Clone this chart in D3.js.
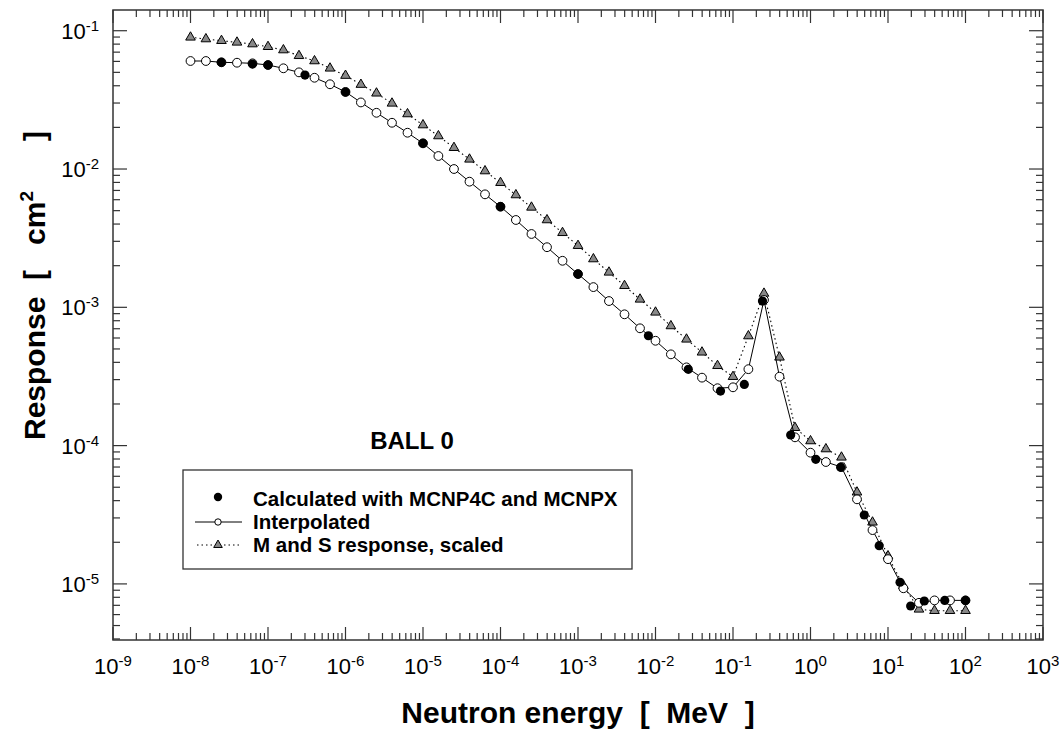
<!DOCTYPE html>
<html lang="en">

<head>
    <meta charset="UTF-8">
    <title>BALL 0 response</title>
    <style>
    body { margin: 0; background: #fff; }
    svg text { font-family: "Liberation Sans", Arial, Helvetica, sans-serif; fill: #000; }
    </style>
</head>

<body>
    <div class="chart"></div>
    <script src="https://d3js.org/d3.v7.min.js"></script>
    <script type="text/javascript">
    // energies on the interpolation grid [MeV]
    var gridEnergy = [
        1e-8, 1.58e-8, 2.51e-8, 3.98e-8, 6.31e-8,
        1e-7, 1.58e-7, 2.51e-7, 3.98e-7, 6.31e-7,
        1e-6, 1.58e-6, 2.51e-6, 3.98e-6, 6.31e-6,
        1e-5, 1.58e-5, 2.51e-5, 3.98e-5, 6.31e-5,
        1e-4, 1.58e-4, 2.51e-4, 3.98e-4, 6.31e-4,
        1e-3, 1.58e-3, 2.51e-3, 3.98e-3, 6.31e-3,
        1e-2, 1.58e-2, 2.51e-2, 3.98e-2, 6.31e-2,
        1e-1, 1.58e-1, 2.51e-1, 3.98e-1, 6.31e-1,
        1, 1.58, 2.51, 3.98, 6.31,
        10, 15.8, 25.1, 39.8, 63.1,
        100
    ];
    var interpResponse = [
        0.0604, 0.0604, 0.0591, 0.0587, 0.0581,
        0.0565, 0.0535, 0.0500, 0.0457, 0.0410,
        0.0361, 0.0303, 0.0255, 0.0216, 0.0183,
        0.01534, 0.01242, 0.0100, 0.0081, 0.00656,
        0.00534, 0.00428, 0.00339, 0.00272, 0.00217,
        0.00174, 0.00140, 0.00111, 0.00089, 0.000705,
        0.000573, 0.000457, 0.000368, 0.000310, 0.000260,
        0.000264, 0.000357, 0.00113, 0.000315, 0.0001148,
        0.0000889, 0.0000761, 0.0000700, 0.0000409, 0.0000245,
        0.0000151, 0.0000093, 0.0000073, 0.0000076, 0.0000076,
        0.0000076
    ];
    var msResponse = [
        0.0896, 0.0871, 0.0847, 0.0824, 0.0801,
        0.0766, 0.0725, 0.0659, 0.0604, 0.0535,
        0.0474, 0.0408, 0.0353, 0.02985, 0.0250,
        0.0208, 0.01733, 0.01426, 0.01175, 0.00967,
        0.00796, 0.00649, 0.00528, 0.00428, 0.00346,
        0.00279, 0.002235, 0.00179, 0.001432, 0.001142,
        0.00092, 0.000733, 0.000587, 0.000473, 0.000378,
        0.000315, 0.00062, 0.00126, 0.000435, 0.0001347,
        0.000108, 0.0000945, 0.0000823, 0.000046, 0.0000279,
        0.0000159, 0.0000097, 0.00000655, 0.0000064, 0.0000064,
        0.0000064
    ];
    // MCNP4C / MCNPX calculated points
    var calcEnergy = [2.5e-8, 6.3e-8, 1e-7, 3e-7, 1e-6, 1e-5, 1e-4, 1e-3, 8.1e-3, 2.65e-2,
        6.9e-2, 0.14, 0.24, 0.555, 1.17, 2.45, 4.94, 7.7, 14.3, 19.6, 29.4, 54, 100];
    var calcResponse = [0.0591, 0.0574, 0.0565, 0.0478, 0.0360, 0.01534, 0.00534, 0.00174, 0.000623, 0.000356,
        0.000248, 0.000277, 0.00111, 0.0001193, 0.0000796, 0.0000697, 0.0000315, 0.0000189, 0.00001028,
        0.00000692, 0.00000752, 0.0000076, 0.0000076];

    var xDecades = [-9, -8, -7, -6, -5, -4, -3, -2, -1, 0, 1, 2, 3];
    var yDecades = [-5, -4, -3, -2, -1];
    var legendLabels = ["Calculated with MCNP4C and MCNPX", "Interpolated", "M and S response, scaled"];

    var width = 1062, height = 730;
    var plotLeft = 113, plotTop = 10, plotW = 930, plotH = 630;

    var svg = d3.select(".chart").append("svg")
        .attr("width", width)
        .attr("height", height);

    var x = d3.scaleLog().domain([1e-9, 1e3]).range([plotLeft, plotLeft + plotW]);
    var y = d3.scaleLog().domain([3.93e-6, 0.1412]).range([plotTop + plotH, plotTop]);

    var interp = gridEnergy.map(function(e, i) { return { e: e, r: interpResponse[i] }; });
    var ms = gridEnergy.map(function(e, i) { return { e: e, r: msResponse[i] }; });
    var calc = calcEnergy.map(function(e, i) { return { e: e, r: calcResponse[i] }; });

    // ticks (inward, all four sides)
    var xMinor = [], yMinor = [];
    xDecades.slice(0, -1).forEach(function(d) {
        for (var k = 2; k <= 9; k++) xMinor.push(k * Math.pow(10, d));
    });
    [-6, -5, -4, -3, -2, -1].forEach(function(d) {
        for (var k = 2; k <= 9; k++) {
            var v = k * Math.pow(10, d);
            if (v >= y.domain()[0] && v <= y.domain()[1]) yMinor.push(v);
        }
    });

    var tickG = svg.append("g").attr("stroke", "#333").attr("stroke-width", 1.2);
    function xTick(v, len) {
        tickG.append("line").attr("x1", x(v)).attr("x2", x(v)).attr("y1", plotTop + plotH).attr("y2", plotTop + plotH - len);
        tickG.append("line").attr("x1", x(v)).attr("x2", x(v)).attr("y1", plotTop).attr("y2", plotTop + len);
    }
    function yTick(v, len) {
        tickG.append("line").attr("y1", y(v)).attr("y2", y(v)).attr("x1", plotLeft).attr("x2", plotLeft + len);
        tickG.append("line").attr("y1", y(v)).attr("y2", y(v)).attr("x1", plotLeft + plotW).attr("x2", plotLeft + plotW - len);
    }
    xDecades.forEach(function(d) { xTick(Math.pow(10, d), 13); });
    xMinor.forEach(function(v) { xTick(v, 7); });
    yDecades.forEach(function(d) { yTick(Math.pow(10, d), 14); });
    yMinor.forEach(function(v) { yTick(v, 7); });

    svg.append("rect")
        .attr("x", plotLeft).attr("y", plotTop)
        .attr("width", plotW).attr("height", plotH)
        .attr("fill", "none").attr("stroke", "#333").attr("stroke-width", 1.5);

    // tick labels
    xDecades.forEach(function(d) {
        var t = svg.append("text")
            .attr("x", x(Math.pow(10, d)))
            .attr("y", 674)
            .attr("text-anchor", "middle")
            .style("font-size", "22px");
        t.append("tspan").text("10");
        t.append("tspan").attr("dy", -8).style("font-size", "15px").text(d);
    });
    yDecades.forEach(function(d) {
        var t = svg.append("text")
            .attr("x", 99)
            .attr("y", y(Math.pow(10, d)) + 8)
            .attr("text-anchor", "end")
            .style("font-size", "22px");
        t.append("tspan").text("10");
        t.append("tspan").attr("dy", -8).style("font-size", "15px").text(d);
    });

    // axis titles
    svg.append("text")
        .attr("x", plotLeft + plotW / 2).attr("y", 723)
        .attr("text-anchor", "middle")
        .attr("xml:space", "preserve")
        .style("font-size", "30px").style("font-weight", "bold")
        .text("Neutron energy  [  MeV  ]");

    var yt = svg.append("text")
        .attr("transform", "translate(45,440) rotate(-90)")
        .attr("text-anchor", "start")
        .attr("xml:space", "preserve")
        .style("font-size", "30px").style("font-weight", "bold");
    yt.append("tspan").text("Response  [   cm");
    yt.append("tspan").attr("dy", -12).style("font-size", "19px").text("2");
    yt.append("tspan").attr("dy", 12).text("      ]");

    svg.append("text")
        .attr("x", 412).attr("y", 449)
        .attr("text-anchor", "middle")
        .style("font-size", "24px").style("font-weight", "bold")
        .text("BALL 0");

    // series
    var line = d3.line()
        .x(function(d) { return x(d.e); })
        .y(function(d) { return y(d.r); });

    var tri = d3.symbol().type(d3.symbolTriangle).size(40);

    svg.append("path").datum(ms)
        .attr("d", line)
        .attr("fill", "none").attr("stroke", "#000").attr("stroke-width", 1.1)
        .attr("stroke-dasharray", "1.5,3");

    svg.append("g").selectAll("path")
        .data(ms)
        .enter().append("path")
        .attr("d", tri)
        .attr("transform", function(d) { return "translate(" + x(d.e) + "," + y(d.r) + ")"; })
        .attr("fill", "#888").attr("stroke", "#000").attr("stroke-width", 1);

    svg.append("path").datum(interp)
        .attr("d", line)
        .attr("fill", "none").attr("stroke", "#000").attr("stroke-width", 1);

    svg.append("g").selectAll("circle")
        .data(interp)
        .enter().append("circle")
        .attr("cx", function(d) { return x(d.e); })
        .attr("cy", function(d) { return y(d.r); })
        .attr("r", 4.4)
        .attr("fill", "#fff").attr("stroke", "#000").attr("stroke-width", 1);

    svg.append("g").selectAll("circle")
        .data(calc)
        .enter().append("circle")
        .attr("cx", function(d) { return x(d.e); })
        .attr("cy", function(d) { return y(d.r); })
        .attr("r", 4.6)
        .attr("fill", "#000");

    // legend
    var lg = svg.append("g");
    lg.append("rect")
        .attr("x", 183).attr("y", 470).attr("width", 449).attr("height", 99)
        .attr("fill", "#fff").attr("stroke", "#333").attr("stroke-width", 1.3);
    var rowY = [499, 522, 545];
    lg.append("circle").attr("cx", 218).attr("cy", rowY[0] - 2).attr("r", 4.2).attr("fill", "#000");
    lg.append("line").attr("x1", 195).attr("x2", 242).attr("y1", rowY[1]).attr("y2", rowY[1])
        .attr("stroke", "#000").attr("stroke-width", 1);
    lg.append("circle").attr("cx", 218).attr("cy", rowY[1]).attr("r", 3.2)
        .attr("fill", "#fff").attr("stroke", "#000").attr("stroke-width", 1);
    lg.append("line").attr("x1", 197).attr("x2", 242).attr("y1", rowY[2]).attr("y2", rowY[2])
        .attr("stroke", "#000").attr("stroke-width", 1).attr("stroke-dasharray", "1.5,3");
    lg.append("path").attr("d", d3.symbol().type(d3.symbolTriangle).size(32))
        .attr("transform", "translate(218," + rowY[2] + ")")
        .attr("fill", "#888").attr("stroke", "#000").attr("stroke-width", 1);
    legendLabels.forEach(function(label, i) {
        lg.append("text")
            .attr("x", 253).attr("y", rowY[i] + 7)
            .style("font-size", "20.5px").style("font-weight", "bold")
            .text(label);
    });
    </script>
</body>

</html>
